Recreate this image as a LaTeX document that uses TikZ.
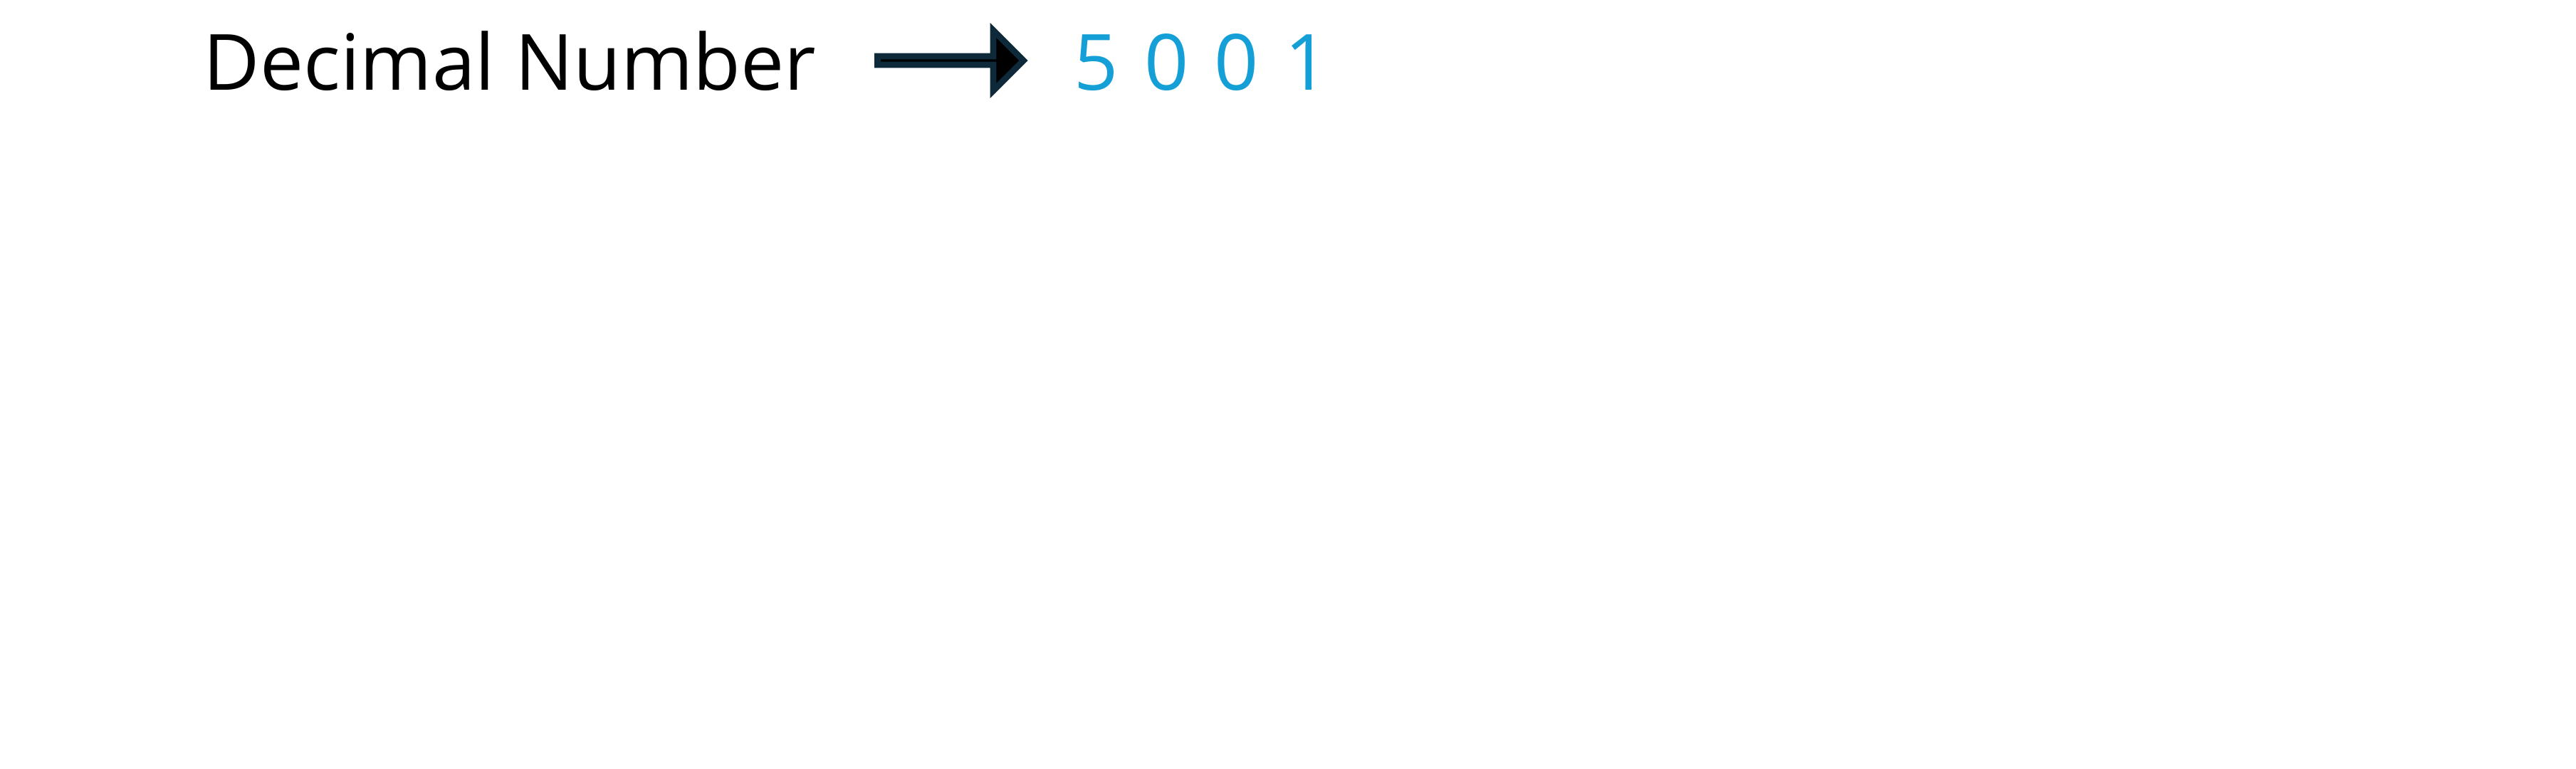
\documentclass[tikz,border=0pt]{standalone}
\usepackage{fontspec}
\setmainfont{Open Sans}
\usetikzlibrary{shapes.arrows}
\definecolor{digitblue}{HTML}{149FD6}
\definecolor{arrowedge}{HTML}{0E2A3A}
\begin{document}
\begin{tikzpicture}
	 [every node/.style={inner sep=0pt,font=\fontsize{31}{36}\selectfont}]
	\useasboundingbox (0,0) rectangle (36.18,10.8);

	\node (label)[anchor=base west] at (2.85,9.53) {Decimal Number};
	\node (arr)[single arrow,draw=arrowedge,fill=black,line width=2.5pt,
	  minimum width=0.85cm,minimum height=2.05cm,single arrow head extend=0.27cm] at (13.32,9.95) {};
	\node (num)[anchor=base west,text=digitblue] at (15.08,9.53) {5\,\,0\,\,0\,\,1};

\end{tikzpicture}
\end{document}
